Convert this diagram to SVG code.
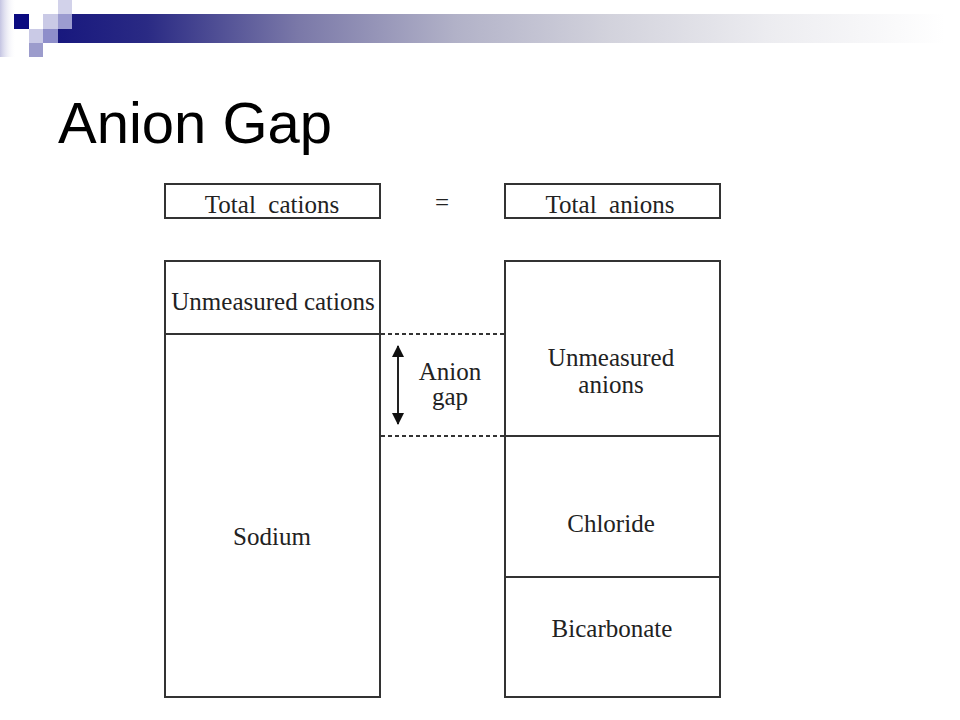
<svg xmlns="http://www.w3.org/2000/svg" width="960" height="720" viewBox="0 0 960 720">
  <defs>
    <linearGradient id="bar" x1="58" y1="0" x2="945" y2="0" gradientUnits="userSpaceOnUse">
      <stop offset="0" stop-color="#18187e"/>
      <stop offset="0.1" stop-color="#2a2a84"/>
      <stop offset="0.27" stop-color="#7a78a8"/>
      <stop offset="0.45" stop-color="#b2b2c8"/>
      <stop offset="0.62" stop-color="#d2d2dc"/>
      <stop offset="0.8" stop-color="#ececf0"/>
      <stop offset="1" stop-color="#ffffff"/>
    </linearGradient>
    <linearGradient id="strip" x1="0" y1="0" x2="1" y2="0">
      <stop offset="0" stop-color="#c4c4e2"/>
      <stop offset="1" stop-color="#ffffff" stop-opacity="0"/>
    </linearGradient>
    <marker id="head" viewBox="0 0 12 12" refX="11" refY="6" markerWidth="12" markerHeight="12" markerUnits="userSpaceOnUse" orient="auto-start-reverse">
      <path d="M0,0 L12,6 L0,12 Z" fill="#111"/>
    </marker>
    <style>
      .box { fill: #fff; stroke: #333; stroke-width: 2; }
      .div { stroke: #333; stroke-width: 2; }
      .lbl { font-family: "Liberation Serif", "Times New Roman", serif; font-size: 25px; fill: #222; text-anchor: middle; }
      .dash { stroke: #333; stroke-width: 2; stroke-dasharray: 4 3; fill: none; }
      .title { font-family: "Liberation Sans", Arial, sans-serif; font-size: 58px; fill: #000; }
    </style>
  </defs>

  <g id="decoration">
    <rect x="0" y="0" width="16" height="57" fill="url(#strip)"/>
    <rect x="58" y="14" width="887" height="29" fill="url(#bar)"/>
    <rect x="14" y="14" width="15" height="15" fill="#0a0a80"/>
    <rect x="58" y="0" width="14" height="14" fill="#d2d2ea"/>
    <rect x="43" y="14" width="15" height="15" fill="#cacae6"/>
    <rect x="58" y="14" width="14" height="15" fill="#9c9cd0"/>
    <rect x="29" y="29" width="14" height="14" fill="#cacae6"/>
    <rect x="43" y="29" width="15" height="14" fill="#8e8eca"/>
    <rect x="29" y="43" width="14" height="14" fill="#9c9ccc"/>
  </g>

  <text class="title" x="58" y="143">Anion Gap</text>

  <g id="total-cations">
    <rect class="box" x="165" y="184" width="215" height="34"/>
    <text class="lbl" x="272" y="213">Total&#160; cations</text>
  </g>
  <g id="equals">
    <text class="lbl" x="442" y="211">=</text>
  </g>
  <g id="total-anions">
    <rect class="box" x="505" y="184" width="215" height="34"/>
    <text class="lbl" x="610" y="213">Total&#160; anions</text>
  </g>

  <g id="cations-column">
    <rect class="box" x="165" y="261" width="215" height="436"/>
    <line class="div" x1="165" y1="334" x2="380" y2="334"/>
  </g>
  <g id="unmeasured-cations">
    <text class="lbl" x="273" y="310">Unmeasured cations</text>
  </g>
  <g id="sodium">
    <text class="lbl" x="272" y="545">Sodium</text>
  </g>

  <g id="anions-column">
    <rect class="box" x="505" y="261" width="215" height="436"/>
    <line class="div" x1="505" y1="436" x2="720" y2="436"/>
    <line class="div" x1="505" y1="577" x2="720" y2="577"/>
  </g>
  <g id="unmeasured-anions">
    <text class="lbl" x="611" y="366">Unmeasured</text>
    <text class="lbl" x="611" y="393">anions</text>
  </g>
  <g id="chloride">
    <text class="lbl" x="611" y="532">Chloride</text>
  </g>
  <g id="bicarbonate">
    <text class="lbl" x="612" y="637">Bicarbonate</text>
  </g>

  <g id="anion-gap">
    <text class="lbl" x="450" y="380">Anion</text>
    <text class="lbl" x="450" y="405">gap</text>
  </g>

  <g id="connectors">
    <line class="dash" x1="381" y1="334" x2="505" y2="334"/>
    <line class="dash" x1="381" y1="436" x2="505" y2="436"/>
    <line x1="398" y1="346" x2="398" y2="424" stroke="#222" stroke-width="2" marker-start="url(#head)" marker-end="url(#head)"/>
  </g>
</svg>
